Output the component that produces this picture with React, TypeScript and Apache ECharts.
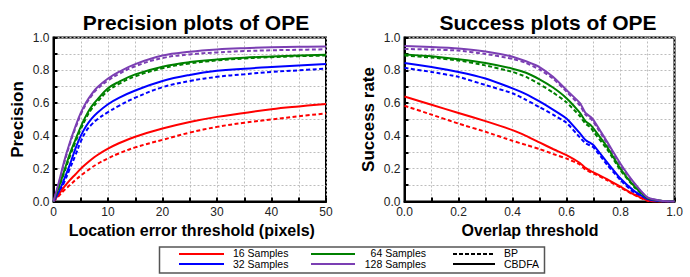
import React, { useEffect, useRef } from "react";
import * as echarts from "echarts";

// ---- Data ----
const precX = [0, 1, 2, 3, 4, 5, 6, 7, 8, 10, 12, 15, 20, 25, 30, 35, 40, 45, 50];
const prec16CBDFA = [0, 0.045, 0.09, 0.13, 0.165, 0.2, 0.23, 0.258, 0.282, 0.322, 0.355, 0.395, 0.445, 0.485, 0.516, 0.54, 0.563, 0.58, 0.595];
const prec16BP = [0, 0.035, 0.07, 0.1, 0.13, 0.158, 0.183, 0.207, 0.228, 0.263, 0.293, 0.33, 0.376, 0.42, 0.455, 0.48, 0.5, 0.52, 0.537];
const prec32CBDFA = [0, 0.06, 0.14, 0.225, 0.32, 0.4, 0.46, 0.505, 0.54, 0.593, 0.632, 0.677, 0.735, 0.772, 0.797, 0.81, 0.82, 0.83, 0.838];
const prec32BP = [0, 0.05, 0.12, 0.2, 0.28, 0.365, 0.43, 0.47, 0.5, 0.545, 0.583, 0.633, 0.697, 0.735, 0.76, 0.776, 0.79, 0.8, 0.81];
const prec64CBDFA = [0, 0.09, 0.19, 0.29, 0.375, 0.455, 0.525, 0.58, 0.62, 0.69, 0.73, 0.775, 0.822, 0.85, 0.866, 0.877, 0.884, 0.89, 0.895];
const prec64BP = [0, 0.085, 0.18, 0.275, 0.36, 0.44, 0.51, 0.565, 0.605, 0.675, 0.717, 0.763, 0.812, 0.842, 0.86, 0.872, 0.88, 0.886, 0.89];
const prec128CBDFA = [0, 0.12, 0.25, 0.36, 0.455, 0.54, 0.605, 0.655, 0.695, 0.75, 0.79, 0.838, 0.89, 0.913, 0.927, 0.935, 0.94, 0.943, 0.945];
const prec128BP = [0, 0.11, 0.24, 0.35, 0.445, 0.53, 0.595, 0.645, 0.685, 0.738, 0.778, 0.825, 0.875, 0.897, 0.909, 0.917, 0.922, 0.925, 0.928];

const succX = [0, 0.1, 0.2, 0.3, 0.4, 0.45, 0.5, 0.55, 0.6, 0.65, 0.67, 0.69, 0.7, 0.75, 0.8, 0.85, 0.9, 0.95, 1.0];
const succ16CBDFA = [0.64, 0.59, 0.54, 0.49, 0.435, 0.4, 0.36, 0.32, 0.283, 0.235, 0.205, 0.185, 0.178, 0.137, 0.09, 0.043, 0.008, 0, 0];
const succ16BP = [0.584, 0.53, 0.475, 0.425, 0.37, 0.345, 0.32, 0.29, 0.262, 0.225, 0.195, 0.178, 0.172, 0.13, 0.085, 0.04, 0.005, 0, 0];
const succ32CBDFA = [0.845, 0.82, 0.79, 0.75, 0.69, 0.655, 0.61, 0.56, 0.506, 0.415, 0.375, 0.355, 0.344, 0.24, 0.14, 0.065, 0.015, 0.002, 0];
const succ32BP = [0.815, 0.79, 0.76, 0.71, 0.66, 0.62, 0.575, 0.53, 0.48, 0.39, 0.355, 0.34, 0.33, 0.225, 0.13, 0.055, 0.01, 0.001, 0];
const succ64CBDFA = [0.897, 0.885, 0.868, 0.845, 0.81, 0.785, 0.745, 0.695, 0.63, 0.54, 0.49, 0.465, 0.445, 0.334, 0.2, 0.095, 0.02, 0.004, 0];
const succ64BP = [0.89, 0.878, 0.86, 0.83, 0.79, 0.76, 0.715, 0.665, 0.605, 0.52, 0.475, 0.45, 0.425, 0.32, 0.19, 0.09, 0.015, 0.003, 0];
const succ128CBDFA = [0.948, 0.942, 0.933, 0.915, 0.883, 0.855, 0.82, 0.76, 0.68, 0.6, 0.54, 0.515, 0.496, 0.365, 0.23, 0.115, 0.025, 0.005, 0];
const succ128BP = [0.93, 0.927, 0.92, 0.9, 0.87, 0.845, 0.805, 0.75, 0.67, 0.585, 0.53, 0.505, 0.485, 0.355, 0.22, 0.11, 0.02, 0.004, 0];

const sampleNames = ["16 Samples", "32 Samples", "64 Samples", "128 Samples"];
const methodNames = ["BP", "CBDFA"];
const colors = ["#ff0000", "#0000ff", "#008000", "#7b3fb3"];

const precSets = [
  [prec16BP, prec16CBDFA],
  [prec32BP, prec32CBDFA],
  [prec64BP, prec64CBDFA],
  [prec128BP, prec128CBDFA],
];
const succSets = [
  [succ16BP, succ16CBDFA],
  [succ32BP, succ32CBDFA],
  [succ64BP, succ64CBDFA],
  [succ128BP, succ128CBDFA],
];

const FONT = "Liberation Sans, Arial, sans-serif";

function zip(xs: number[], ys: number[]) {
  return xs.map((x, i) => [x, ys[i]]);
}

export default function App() {
  const ref = useRef<HTMLDivElement>(null);
  useEffect(() => {
    if (!ref.current) return;
    const chart = echarts.init(ref.current, undefined, { renderer: "svg" });

    const series: any[] = [];
    precSets.forEach((pair, si) => {
      pair.forEach((arr, mi) => {
        series.push({
          type: "line",
          name: sampleNames[si] + " " + methodNames[mi],
          xAxisIndex: 0,
          yAxisIndex: 0,
          data: zip(precX, arr),
          smooth: 0.4,
          showSymbol: false,
          lineStyle: { color: colors[si], width: 2, type: mi === 0 ? [4, 2.5] : "solid" },
          z: mi === 0 ? 3 : 4,
        });
      });
    });
    succSets.forEach((pair, si) => {
      pair.forEach((arr, mi) => {
        series.push({
          type: "line",
          name: sampleNames[si] + " " + methodNames[mi] + " success",
          xAxisIndex: 1,
          yAxisIndex: 1,
          data: zip(succX, arr),
          smooth: 0.15,
          showSymbol: false,
          lineStyle: { color: colors[si], width: 2, type: mi === 0 ? [4, 2.5] : "solid" },
          z: mi === 0 ? 3 : 4,
        });
      });
    });

    const axisCommon = {
      axisLine: { show: true, lineStyle: { color: "#000", width: 2 } },
      axisTick: { show: true, inside: true, length: 4, lineStyle: { color: "#000", width: 2 } },
      splitLine: { show: true, lineStyle: { color: "#bdbdbd", width: 1, type: [2, 2] } },
      axisLabel: { color: "#222", fontSize: 12, fontFamily: FONT, margin: 4 },
      nameTextStyle: { color: "#000", fontSize: 16, fontWeight: "bold", fontFamily: FONT },
    };

    const legendRows = [253, 263.5];
    const graphicEls: any[] = [
      {
        type: "rect",
        shape: { x: 159.5, y: 247, width: 385, height: 26 },
        style: { fill: "#fff", stroke: "#555", lineWidth: 1.5 },
      },
    ];
    const legendLineX = [
      [179, 224],
      [179, 224],
      [311, 355],
      [311, 355],
    ];
    const legendLineY = [254, 264];
    sampleNames.forEach((n, i) => {
      const row = legendRows[i % 2];
      const ly = legendLineY[i % 2];
      graphicEls.push({
        type: "line",
        shape: { x1: legendLineX[i][0], y1: ly, x2: legendLineX[i][1], y2: ly },
        style: { stroke: colors[i], lineWidth: 2 },
      });
      graphicEls.push({
        type: "text",
        x: i < 2 ? 233 : 426,
        y: row,
        style: {
          text: n,
          fill: "#000",
          font: `10.5px ${FONT}`,
          lineHeight: 10,
          align: i < 2 ? "left" : "right",
          verticalAlign: "middle",
        },
      });
    });
    methodNames.forEach((n, i) => {
      const row = legendRows[i];
      const ly = legendLineY[i];
      graphicEls.push({
        type: "line",
        shape: { x1: 453, y1: ly, x2: 495, y2: ly },
        style: { stroke: "#000", lineWidth: 2, lineDash: i === 0 ? [4, 2] : null },
      });
      graphicEls.push({
        type: "text",
        x: 504,
        y: row,
        style: { text: n, fill: "#000", font: `10.5px ${FONT}`, lineHeight: 10, align: "left", verticalAlign: "middle" },
      });
    });

    chart.setOption({
      animation: false,
      backgroundColor: "#fff",
      title: [
        {
          text: "Precision plots of OPE",
          left: 191,
          top: 7,
          textAlign: "center",
          textStyle: { fontSize: 21, fontWeight: "bold", color: "#000", fontFamily: FONT },
        },
        {
          text: "Success plots of OPE",
          left: 543,
          top: 7,
          textAlign: "center",
          textStyle: { fontSize: 21, fontWeight: "bold", color: "#000", fontFamily: FONT },
        },
      ],
      grid: [
        { left: 53.5, top: 37.5, width: 272.5, height: 164, show: true, borderColor: "#000", borderWidth: 2, containLabel: false },
        { left: 404.5, top: 37.5, width: 270, height: 164, show: true, borderColor: "#000", borderWidth: 2, containLabel: false },
      ],
      xAxis: [
        {
          ...axisCommon,
          type: "value",
          gridIndex: 0,
          min: 0,
          max: 50,
          interval: 5,
          name: "Location error threshold (pixels)",
          nameLocation: "middle",
          nameGap: 16,
          nameTextStyle: { ...axisCommon.nameTextStyle, padding: [0, 0, 0, 4] },
          axisLabel: {
            ...axisCommon.axisLabel,
            formatter: (v: number) => (Math.round(v) % 10 === 0 ? String(v) : ""),
          },
        },
        {
          ...axisCommon,
          type: "value",
          gridIndex: 1,
          min: 0,
          max: 1,
          interval: 0.1,
          name: "Overlap threshold",
          nameLocation: "middle",
          nameGap: 16,
          nameTextStyle: { ...axisCommon.nameTextStyle, padding: [0, 19, 0, 0] },
          axisLabel: {
            ...axisCommon.axisLabel,
            formatter: (v: number) => (Math.round(v * 10) % 2 === 0 ? v.toFixed(1) : ""),
          },
        },
      ],
      yAxis: [
        {
          ...axisCommon,
          type: "value",
          gridIndex: 0,
          min: 0,
          max: 1,
          interval: 0.1,
          name: "Precision",
          nameLocation: "middle",
          nameGap: 28,
          nameTextStyle: { ...axisCommon.nameTextStyle, fontSize: 17 },
          axisLabel: {
            ...axisCommon.axisLabel,
            formatter: (v: number) => (Math.round(v * 10) % 2 === 0 ? v.toFixed(1) : ""),
          },
        },
        {
          ...axisCommon,
          type: "value",
          gridIndex: 1,
          min: 0,
          max: 1,
          interval: 0.1,
          name: "Success rate",
          nameLocation: "middle",
          nameGap: 28,
          nameTextStyle: { ...axisCommon.nameTextStyle, fontSize: 17 },
          axisLabel: {
            ...axisCommon.axisLabel,
            formatter: (v: number) => (Math.round(v * 10) % 2 === 0 ? v.toFixed(1) : ""),
          },
        },
      ],
      series,
      graphic: graphicEls,
    });
    return () => chart.dispose();
  }, []);
  return (
    <div
      ref={ref}
      style={{ position: "absolute", left: 0, top: 0, width: 690, height: 277, background: "#fff" }}
    />
  );
}
